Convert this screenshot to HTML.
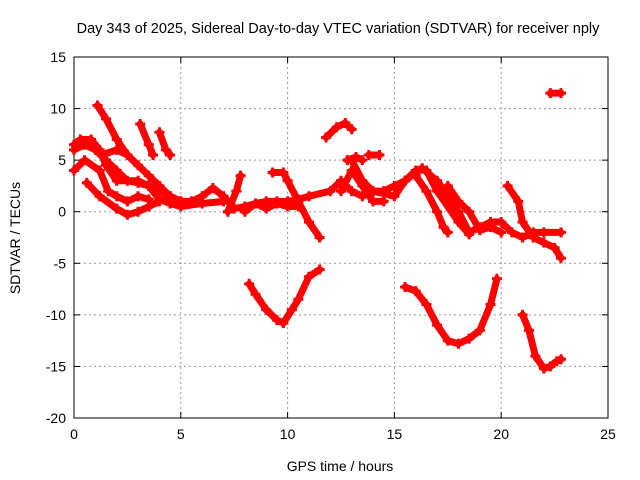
<!DOCTYPE html>
<html><head><meta charset="utf-8"><style>
body{margin:0;background:#fff}
svg{display:block;font-family:"Liberation Sans",sans-serif}
</style></head><body>
<svg id="chart" width="640" height="480">
<text x="338" y="33" text-anchor="middle" font-size="14.5">Day 343 of 2025, Sidereal Day-to-day VTEC variation (SDTVAR) for receiver nply</text>
<g id="grid"></g>
<g id="axes"></g>
<g id="series"></g>
<text x="340" y="471" text-anchor="middle" font-size="14">GPS time / hours</text>
<text transform="translate(20,238) rotate(-90)" text-anchor="middle" font-size="14">SDTVAR / TECUs</text>
</svg>
<script>
const xTicks=[0,5,10,15,20,25];
const yTicks=[15,10,5,0,-5,-10,-15,-20];
const tracks=[
[[0.6,2.8],[1.2,1.5],[2,0.3],[2.5,-0.3],[3,0],[3.5,0.5],[4,1],[4.5,1.5],[5,1],[5.5,1],[6,1.5],[6.5,2.3],[7,1.5],[7.5,0.3],[8,0.5],[8.5,0.8],[9,1],[9.5,1],[10,1],[10.5,1.2],[11,1.5],[12,2],[12.5,3],[13,2],[13.5,1.5],[14,2],[14.5,2],[15,2.5],[15.5,3],[16,4],[16.3,4.2]],
[[0,6],[0.5,6.5],[1,6],[1.5,5],[2,4],[2.5,3],[3,2.8],[3.5,2.5],[4,2],[4.5,1.5],[5,1]],
[[0,4],[0.5,5],[1.2,4],[1.6,2],[2,1.5],[2.5,1],[3,1.5],[3.5,1.2]],
[[0,6.5],[0.3,7],[0.8,7],[1.2,6],[1.5,4.5],[2,3],[3,3],[3.5,2.5],[4,2]],
[[1.1,10.3],[1.5,9],[2,7],[2.5,5.5],[3,4.5],[3.5,3.5],[4,2.5],[4.5,1.5],[5,1]],
[[3.1,8.5],[3.5,6.5],[3.7,5.5]],
[[4.0,7.7],[4.3,6],[4.5,5.5]],
[[3.5,2.5],[4,1.2],[4.5,0.8],[5,0.5],[6,0.8],[7,1]],
[[1.3,5.5],[2,6],[2.5,5.5]],
[[7.2,0],[7.6,2],[7.8,3.5]],
[[8,0],[8.5,0.8],[9,0.3],[9.5,0.8],[10,0.5],[10.5,0.5]],
[[9.3,3.8],[9.8,3.8],[10,3],[10.5,1],[11,-1],[11.5,-2.5]],
[[11.8,7.2],[12.3,8.2],[12.7,8.6],[13,8]],
[[12.8,5],[13.2,5.3],[13.5,5]],
[[13.8,5.5],[14.3,5.5]],
[[12.5,2],[13,4],[13.5,2.5],[14,1],[14.5,1]],
[[13,5],[13.5,3],[14,2],[15,1.5],[15.5,3],[16,3.8]],
[[16,3.5],[16.5,2],[17,0],[17.3,-1.5],[17.5,-2]],
[[16.3,4.2],[17,3],[18,0],[18.5,-2],[19,-1.5],[19.5,-1],[20,-1],[20.5,-2],[21,-2.5],[21.5,-2],[22,-2],[22.8,-2]],
[[16.5,4],[17,2],[18,-1],[18.5,-2.2]],
[[17.5,2.5],[18,1],[18.5,0],[19,-1.8],[19.5,-1.5],[20,-2]],
[[20.3,2.5],[20.8,1],[21,-1],[21.5,-2.5],[22,-3],[22.5,-3.5],[22.8,-4.5]],
[[8.2,-7],[8.5,-8],[9,-9.5],[9.5,-10.5],[9.8,-10.8],[10.2,-9.5],[10.5,-8.5],[11,-6.3],[11.5,-5.6]],
[[15.5,-7.3],[16,-7.7],[16.5,-9],[17,-11],[17.5,-12.5],[18,-12.8],[18.5,-12.3],[19,-11.5],[19.5,-9],[19.8,-6.5]],
[[21,-10],[21.3,-11.5],[21.6,-14],[22,-15.2],[22.3,-15],[22.6,-14.5],[22.8,-14.3]],
[[22.3,11.5],[22.8,11.5]]
];
const NS="http://www.w3.org/2000/svg";
const L=74,R=608,T=57,B=418;
const xs=t=>L+(t-0)/25*(R-L);
const ys=v=>T+(15-v)/35*(B-T);
function mk(tag,attrs,parent){const e=document.createElementNS(NS,tag);for(const k in attrs)e.setAttribute(k,attrs[k]);parent.appendChild(e);return e;}
const grid=document.getElementById('grid'),axes=document.getElementById('axes'),ser=document.getElementById('series');
xTicks.forEach(t=>{
 if(t>0&&t<25){const g=mk('line',{x1:xs(t),x2:xs(t),y1:T,y2:B,stroke:'#999','stroke-dasharray':'2,3'},grid);
 
 }
 mk('line',{x1:xs(t),x2:xs(t),y1:B,y2:B-6,stroke:'#000'},axes);
 mk('line',{x1:xs(t),x2:xs(t),y1:T,y2:T+6,stroke:'#000'},axes);
 const tx=mk('text',{x:xs(t),y:B+21,'text-anchor':'middle','font-size':14},axes);tx.textContent=t;
 
 
});
yTicks.forEach(v=>{
 if(v<15&&v>-20){const g=mk('line',{x1:L,x2:R,y1:ys(v),y2:ys(v),stroke:'#999','stroke-dasharray':'2,3'},grid);
 
 }
 mk('line',{x1:L,x2:L+6,y1:ys(v),y2:ys(v),stroke:'#000'},axes);
 mk('line',{x1:R,x2:R-6,y1:ys(v),y2:ys(v),stroke:'#000'},axes);
 const tx=mk('text',{x:L-8,y:ys(v)+5,'text-anchor':'end','font-size':14},axes);tx.textContent=v;
 
 
});
mk('rect',{x:L,y:T,width:R-L,height:B-T,fill:'none',stroke:'#000'},axes);
tracks.forEach(tr=>{
 const p=mk('polyline',{points:tr.map(d=>xs(d[0])+','+ys(d[1])).join(' '),fill:'none',stroke:'#f00','stroke-width':7,'stroke-linejoin':'round','stroke-linecap':'round'},ser);
 
 
 tr.forEach(d=>{
  const m=mk('path',{d:`M${xs(d[0])-5},${ys(d[1])}h10M${xs(d[0])},${ys(d[1])-5}v10`,stroke:'#f00','stroke-width':3},ser);
  
  
 });
});
</script>
</body></html>
